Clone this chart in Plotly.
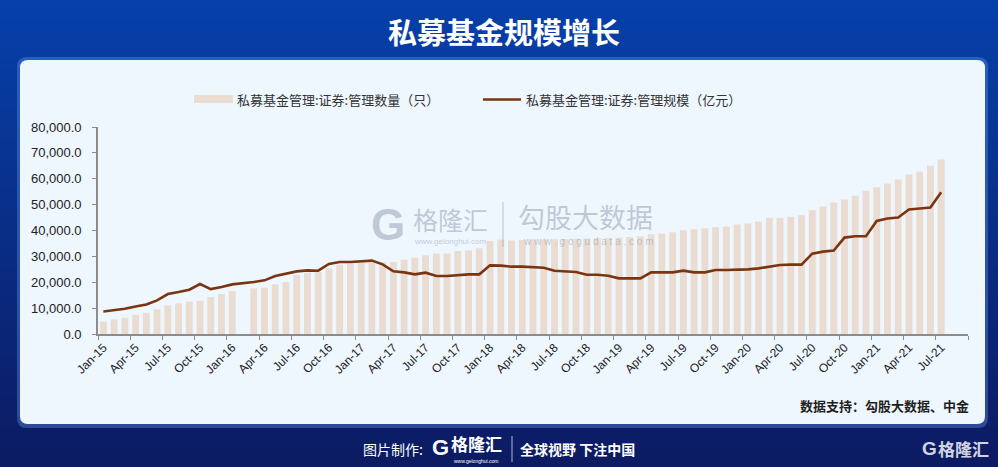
import plotly.graph_objects as go

W, H = 998, 467

# ---------------- data ----------------
fund_count = [4840, 5620, 6270, 7430, 8200, 9490, 11040, 11820, 12470, 12850, 14270, 15430,
              16590, None, 17620, 17880, 19170, 20080, 22800, 23700, 23950, 25400, 26800, 27200,
              27500, 27600, 27700, 27820, 28730, 29500, 30410, 31060, 31060, 32090, 32350, 33120,
              35960, 36480, 36100, 36300, 36400, 36500, 36600, 36700, 36800, 36900, 37000, 37100,
              37300, 37500, 37770, 38550, 38810, 39320, 40100, 40480, 40870, 41260, 41520, 42300,
              42690, 43460, 44880, 44880, 45270, 45910, 47840, 49260, 50810, 51980, 53400, 55340,
              56760, 58180, 59730, 61670, 62700, 65020, 67470]

fund_scale = [8720, 9100, 9750, 10650, 11420, 12980, 15430, 16200, 17110, 19300, 17370, 18140,
              19170, None, 20080, 20730, 22400, 23440, 24210, 24600, 24470, 27050, 27820, 27820,
              28200, 28350, 26920, 24210, 23820, 23050, 23700, 22400, 22400, 22790, 23050, 23050,
              26540, 26410, 26020, 26020, 25760, 25630, 24470, 24340, 23950, 22920, 22920, 22530,
              21500, 21500, 21500, 23820, 23820, 23820, 24470, 23820, 23820, 24730, 24730, 24730,
              24990, 25370, 26150, 26670, 26800, 26800, 31060, 31830, 32220, 37260, 37770, 37770,
              43710, 44620, 45010, 48110, 48500, 48890, 54820]

tick_labels = ["Jan-15", "Apr-15", "Jul-15", "Oct-15", "Jan-16", "Apr-16", "Jul-16", "Oct-16",
               "Jan-17", "Apr-17", "Jul-17", "Oct-17", "Jan-18", "Apr-18", "Jul-18", "Oct-18",
               "Jan-19", "Apr-19", "Jul-19", "Oct-19", "Jan-20", "Apr-20", "Jul-20", "Oct-20",
               "Jan-21", "Apr-21", "Jul-21"]

name_count = "私募基金管理:证券:管理数量（只）"
name_scale = "私募基金管理:证券:管理规模（亿元）"
title_text = "私募基金规模增长"
source_text = "数据支持：勾股大数据、中金"

n_slots = 81  # category slots on the axis (Jan-15 .. Sep-21)
x_idx = list(range(len(fund_count)))
tick_pos = [i * 3 for i in range(len(tick_labels))]

# ---------------- helpers ----------------
def px(x):
    return x / W

def py(y):
    return 1 - y / H

CJK = "Noto Sans CJK SC, Noto Sans, sans-serif"
ARIAL = "Arial, Liberation Sans, sans-serif"

BAR_COLOR = "#EADCD1"
LINE_COLOR = "#7A3510"
PANEL = "#EEF6FE"

fig = go.Figure()

fig.add_trace(go.Bar(
    x=x_idx, y=fund_count, width=0.64, name=name_count,
    marker=dict(color=BAR_COLOR, line=dict(width=0)),
    showlegend=False,
))
fig.add_trace(go.Scatter(
    x=x_idx, y=fund_scale, mode="lines", name=name_scale, connectgaps=True,
    line=dict(color=LINE_COLOR, width=2.6),
    showlegend=False,
))

shapes = []
# background gradient bands
top_c = (6, 64, 170)
bot_c = (12, 27, 98)
nb = 47
for k in range(nb):
    t = k / (nb - 1)
    c = tuple(int(round(top_c[j] + (bot_c[j] - top_c[j]) * t)) for j in range(3))
    y0 = k * H / nb
    y1 = (k + 1) * H / nb + 0.6
    shapes.append(dict(type="rect", xref="paper", yref="paper", layer="below",
                       x0=0, x1=1, y0=py(y1), y1=py(y0),
                       fillcolor="rgb(%d,%d,%d)" % c, line=dict(width=0)))

def rounded(x0, y0, x1, y1, r):
    rx, ry = r / W, r / H
    X0, X1 = px(x0), px(x1)
    Yt, Yb = py(y0), py(y1)
    return (f"M {X0+rx},{Yt} L {X1-rx},{Yt} Q {X1},{Yt} {X1},{Yt-ry} "
            f"L {X1},{Yb+ry} Q {X1},{Yb} {X1-rx},{Yb} L {X0+rx},{Yb} "
            f"Q {X0},{Yb} {X0},{Yb+ry} L {X0},{Yt-ry} Q {X0},{Yt} {X0+rx},{Yt} Z")

# glow and panel
shapes.append(dict(type="path", xref="paper", yref="paper", layer="below",
                   path=rounded(17, 57, 988, 428, 10),
                   fillcolor="rgba(110,160,240,0.35)", line=dict(width=0)))
shapes.append(dict(type="path", xref="paper", yref="paper", layer="below",
                   path=rounded(20, 60, 985, 424, 8),
                   fillcolor=PANEL, line=dict(width=0)))

# legend swatches
shapes.append(dict(type="rect", xref="paper", yref="paper", layer="above",
                   x0=px(194), x1=px(233), y0=py(103), y1=py(95),
                   fillcolor=BAR_COLOR, line=dict(width=0)))
shapes.append(dict(type="line", xref="paper", yref="paper", layer="above",
                   x0=px(483), x1=px(521), y0=py(99.5), y1=py(99.5),
                   line=dict(color=LINE_COLOR, width=2.6)))

# watermark separator
shapes.append(dict(type="line", xref="paper", yref="paper", layer="above",
                   x0=px(503), x1=px(503), y0=py(247), y1=py(202),
                   line=dict(color="rgba(140,150,168,0.45)", width=1.2)))
# footer separator
shapes.append(dict(type="line", xref="paper", yref="paper", layer="above",
                   x0=px(512), x1=px(512), y0=py(462), y1=py(436),
                   line=dict(color="rgba(220,225,240,0.8)", width=1)))

annotations = []

def ann(text, x, y, size, color, family=CJK, xanchor="center", yanchor="middle", **kw):
    annotations.append(dict(text=text, x=px(x), y=py(y), xref="paper", yref="paper",
                            showarrow=False, xanchor=xanchor, yanchor=yanchor,
                            font=dict(size=size, color=color, family=family), **kw))

ann("<b>" + title_text + "</b>", 504, 31, 29, "white")
ann(name_count, 235, 99.5, 13, "#333333", xanchor="left")
ann(name_scale, 524, 99.5, 13, "#333333", xanchor="left")
ann("<b>" + source_text + "</b>", 971, 405, 13, "#1e1e1e", xanchor="right")

# watermark
wm = "rgba(125,135,155,0.42)"
ann("<b>G</b>", 388, 224, 44, wm, family=ARIAL)
ann("格隆汇", 450, 219, 25, wm)
ann("www.gelonghui.com", 450, 241, 8, wm, family=ARIAL)
ann("勾股大数据", 585, 217, 27, wm)
ann("w w w . g o g u d a t a . c o m", 588, 241, 10, wm, family=ARIAL)

# footer
ann("图片制作:", 393, 449, 14, "white")
ann("<b>G</b>", 440, 447, 22, "white", family=ARIAL)
ann("<b>格隆汇</b>", 476, 443, 17, "white")
ann("www.gelonghui.com", 476, 461, 5, "white", family=ARIAL)
ann("<b>全球视野 下注中国</b>", 577, 449, 14, "white")
ann("<b>G</b>", 929, 448, 19, "rgba(235,238,245,0.9)", family=ARIAL)
ann("<b>格隆汇</b>", 963, 448, 17, "rgba(235,238,245,0.9)")

fig.update_layout(
    width=W, height=H, autosize=False,
    margin=dict(l=0, r=0, t=0, b=0, pad=0),
    paper_bgcolor="rgb(10,45,135)",
    plot_bgcolor="rgba(0,0,0,0)",
    bargap=0.3,
    shapes=shapes,
    annotations=annotations,
    showlegend=False,
    xaxis=dict(
        domain=[px(98), px(968)],
        range=[-0.5, n_slots - 0.5],
        tickmode="array", tickvals=tick_pos, ticktext=tick_labels,
        tickangle=-45, ticks="",
        tickfont=dict(family=ARIAL, size=12, color="#222222"),
        showline=True, linecolor="#8c8c8c", linewidth=1.6,
        showgrid=False, zeroline=False, automargin=False,
        minor=dict(tickmode="linear", tick0=-0.5, dtick=3, ticks="outside",
                   ticklen=4, tickwidth=1.4, tickcolor="#8c8c8c", showgrid=False),
    ),
    yaxis=dict(
        domain=[py(334), py(127)],
        range=[0, 80000], tickmode="linear", tick0=0, dtick=10000,
        tickformat=",.1f",
        ticks="outside", ticklen=4, tickwidth=1.4, tickcolor="#8c8c8c",
        tickfont=dict(family=ARIAL, size=13, color="#222222"),
        showline=True, linecolor="#8c8c8c", linewidth=1.6,
        showgrid=False, zeroline=False, automargin=False,
        ticklabelstandoff=8,
    ),
)

fig.write_html(
    "out.html",
    config={"displayModeBar": False},
    post_script="document.body.style.margin='0';document.body.style.overflow='hidden';",
)
